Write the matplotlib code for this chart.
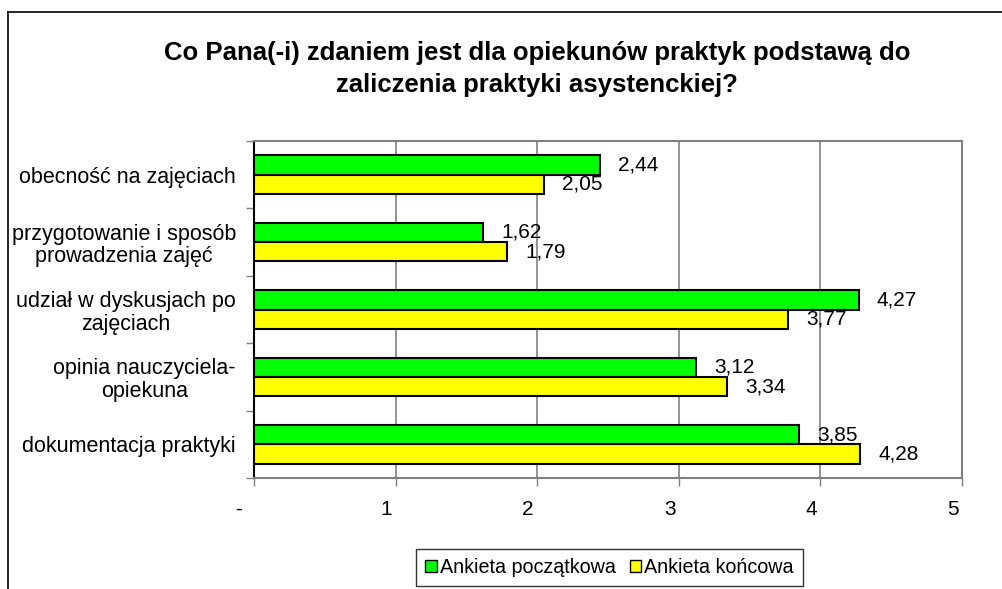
import matplotlib.pyplot as plt
from matplotlib.lines import Line2D
from matplotlib.patches import Patch
from matplotlib.transforms import offset_copy
import numpy as np

plt.rcParams["font.family"] = ["Liberation Sans", "DejaVu Sans"]

title = "Co Pana(-i) zdaniem jest dla opiekunów praktyk podstawą do\nzaliczenia praktyki asystenckiej?"
categories = [
    "obecność na zajęciach",
    "przygotowanie i sposób\nprowadzenia zajęć",
    "udział w dyskusjach po\nzajęciach",
    "opinia nauczyciela-\nopiekuna",
    "dokumentacja praktyki",
]
poczatkowa = [2.44, 1.62, 4.27, 3.12, 3.85]
koncowa = [2.05, 1.79, 3.77, 3.34, 4.28]
series_names = ["Ankieta początkowa", "Ankieta końcowa"]
xtick_labels = ["-", "1", "2", "3", "4", "5"]

fig = plt.figure(figsize=(10.02, 5.89), dpi=100)
ax = fig.add_axes([254 / 1002, 1 - 478 / 589, (962 - 254) / 1002, (478 - 141) / 589])

y = np.arange(len(categories))
h = 0.285
b1 = ax.barh(y - h / 2, poczatkowa, height=h, color="#00ff00", edgecolor="black", linewidth=1.5, zorder=3)
b2 = ax.barh(y + h / 2, koncowa, height=h, color="#ffff00", edgecolor="black", linewidth=1.5, zorder=3)

for bars, vals in [(b1, poczatkowa), (b2, koncowa)]:
    for rect, v in zip(bars, vals):
        tr = offset_copy(ax.transData, fig=fig, x=18, y=0, units="dots")
        ax.text(v, rect.get_y() + rect.get_height() / 2, f"{v:.2f}".replace(".", ","),
                transform=tr, ha="left", va="center", fontsize=15, zorder=4)

ax.set_xlim(0, 5)
ax.set_ylim(len(categories) - 0.5, -0.5)
ax.set_xticks(range(6))
ax.set_xticklabels([])
ax.xaxis.set_tick_params(length=6, width=1, color="#808080")
# excel puts the value labels a bit left of the ticks
for i, t in enumerate(xtick_labels):
    dx = -15 if t == "-" else -9
    tr = offset_copy(ax.get_xaxis_transform(), fig=fig, x=dx, y=-22, units="dots")
    ax.text(i, 0, t, transform=tr, ha="center", va="top", fontsize=15)
ax.grid(axis="x", color="#808080", linewidth=1.2, zorder=0)

ax.set_yticks(y)
ax.set_yticklabels(categories, fontsize=15.5, multialignment="center", linespacing=1.1)
ax.tick_params(axis="y", length=0, pad=13)
ax.set_yticks(np.arange(-0.5, len(categories)), minor=True)
ax.tick_params(axis="y", which="minor", length=6, width=1, color="#808080")

for s in ["top", "right", "bottom"]:
    ax.spines[s].set_color("#808080")
    ax.spines[s].set_linewidth(1.5)
ax.spines["left"].set_color("black")
ax.spines["left"].set_linewidth(1.5)

fig.text(0.536, 1 - 69 / 589, title, ha="center", va="center", fontsize=18.5, fontweight="bold",
         linespacing=1.45)

handles = [Patch(facecolor="#00ff00", edgecolor="black"), Patch(facecolor="#ffff00", edgecolor="black")]
leg = fig.legend(handles, series_names, loc="center", bbox_to_anchor=(609.5 / 1002, 1 - 567.5 / 589),
                 ncol=2, fontsize=14.2, frameon=True, fancybox=False, edgecolor="black",
                 handlelength=0.6, handleheight=0.6, handletextpad=0.15, columnspacing=0.7,
                 borderpad=0.45)
leg.get_frame().set_linewidth(1)

fig.add_artist(Line2D([8 / 1002, 8 / 1002], [0, 1 - 12 / 589], color="black", linewidth=1.2))
fig.add_artist(Line2D([8 / 1002, 1], [1 - 12 / 589, 1 - 12 / 589], color="black", linewidth=1.2))

fig.savefig("out.png", dpi=100)
